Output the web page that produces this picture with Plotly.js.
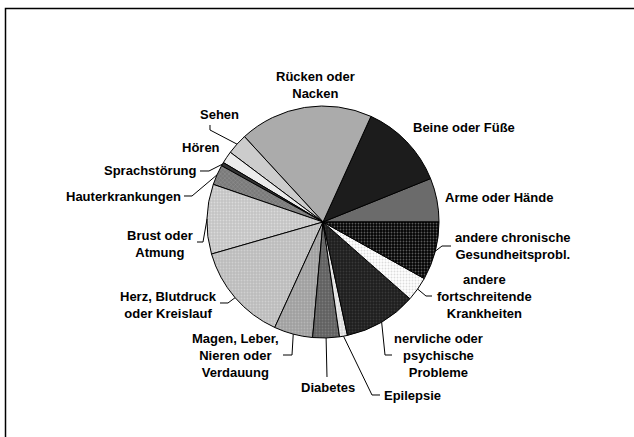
<!DOCTYPE html>
<html><head><meta charset="utf-8">
<script src="https://cdn.plot.ly/plotly-3.0.1.min.js"></script>
<style>html,body{margin:0;padding:0;background:#fff}#chart{width:634px;height:437px}</style>
</head><body><div id="chart"></div>
<script>
// ---- data ----
const categories = ["Arme oder Hände", "Beine oder Füße", "Rücken oder Nacken", "Sehen", "Hören",
  "Sprachstörung", "Hauterkrankungen", "Brust oder Atmung", "Herz, Blutdruck oder Kreislauf",
  "Magen, Leber, Nieren oder Verdauung", "Diabetes", "Epilepsie", "nervliche oder psychische Probleme",
  "andere fortschreitende Krankheiten", "andere chronische Gesundheitsprobl."];
const shares = [6.1, 12.1, 18.6, 2.9, 1.7, 0.5, 2.8, 9.7, 13.7, 5.4, 3.7, 1.1, 10.1, 3.4, 8.1];
const labelTexts = ["Arme oder Hände", "Beine oder Füße", "Rücken oder<br>Nacken", "Sehen", "Hören",
  "Sprachstörung", "Hauterkrankungen", "Brust oder<br>Atmung", "Herz, Blutdruck<br>oder Kreislauf",
  "Magen, Leber,<br>Nieren oder<br>Verdauung", "Diabetes", "Epilepsie", "nervliche oder<br>psychische<br>Probleme",
  "andere<br>fortschreitende<br>Krankheiten", "andere chronische<br>Gesundheitsprobl."];

// ---- styles ----
const W = 634, H = 437;
const CX = 323, CY = 222, R = 116;
const bgColors = ["#6b6b6b", "#1c1c1c", "#ababab", "#cccccc", "#ececec", "#333333", "#7a7a7a",
  "#c4c4c4", "#bcbcbc", "#a0a0a0", "#606060", "#dcdcdc", "#1e1e1e", "#ffffff", "#030303"];
const fgColors = ["#6b6b6b", "#1c1c1c", "#ababab", "#cccccc", "#ececec", "#333333", "#959595",
  "#dadada", "#d0d0d0", "#b6b6b6", "#7a7a7a", "#f4f4f4", "#383838", "#dcdcdc", "#5a5a5a"];
const patShapes = ["", "", "", "", "", "", "x", ".", ".", ".", ".", ".", ".", ".", "."];

// label placement (pixels): x, y, xanchor, leader points (from text toward slice)
const labelPos = [
  {x: 443, y: 197, xa: "left", lead: null},
  {x: 411, y: 127, xa: "left", lead: null},
  {x: 315, y: 84.5, xa: "center", lead: null},
  {x: 219, y: 114, xa: "center", lead: [[210,125],[210,130]]},
  {x: 201, y: 147, xa: "center", lead: null},
  {x: 199, y: 171, xa: "right", lead: [[200,171],[209,171]]},
  {x: 183, y: 196, xa: "right", lead: [[184,196],[192,196]]},
  {x: 160, y: 243.5, xa: "center", lead: [[197,242],[203,242]]},
  {x: 168, y: 304.5, xa: "center", lead: [[220,303],[228,303]]},
  {x: 235, y: 355, xa: "center", lead: [[283,355],[292,355]]},
  {x: 328, y: 387, xa: "center", lead: [[327,377]]},
  {x: 382, y: 395, xa: "left", lead: [[380,395],[372,395]]},
  {x: 438, y: 355, xa: "center", lead: [[392,355],[385,355]]},
  {x: 484, y: 296, xa: "center", lead: [[432,296],[426,296]]},
  {x: 453, y: 245.5, xa: "left", lead: [[451,246],[442,246]]}
];

const px = x => x / W, py = y => 1 - y / H;

const total = shares.reduce((a, b) => a + b, 0);
let cum = 0;
const shapes = [{
  type: "rect", xref: "paper", yref: "paper",
  x0: px(5.5), x1: 1.05, y0: -0.05, y1: py(8.5),
  line: {color: "#000", width: 1.5}, fillcolor: "rgba(0,0,0,0)"
}];
const annotations = [];
shares.forEach((v, i) => {
  const a0 = cum / total * 360; cum += v;
  const a1 = cum / total * 360;
  const mid = (a0 + a1) / 2 * Math.PI / 180;
  const ex = CX + R * Math.cos(mid), ey = CY - R * Math.sin(mid);
  const lp = labelPos[i];
  if (lp.lead) {
    const pts = lp.lead.concat([[ex, ey]]);
    const d = pts.map((p, k) => (k ? "L" : "M") + px(p[0]).toFixed(5) + "," + py(p[1]).toFixed(5)).join(" ");
    shapes.push({type: "path", xref: "paper", yref: "paper", path: d, line: {color: "#000", width: 1}});
  }
  annotations.push({
    text: labelTexts[i], xref: "paper", yref: "paper",
    x: px(lp.x), y: py(lp.y), xanchor: lp.xa, yanchor: "middle",
    showarrow: false, align: "center",
    font: {family: "Liberation Sans, Arial, sans-serif", size: 13, color: "#000", weight: "bold"}
  });
});

// first slice begins at 3 o'clock, running counter-clockwise
const rotation = 90 - shares[0] / total * 360;

const trace = {
  type: "pie", labels: categories, values: shares, sort: false,
  direction: "counterclockwise", rotation: rotation, textinfo: "none", hoverinfo: "skip",
  domain: {x: [px(CX - R), px(CX + R)], y: [py(CY + R), py(CY - R)]},
  marker: {
    colors: bgColors, line: {color: "#000", width: 1},
    pattern: {shape: patShapes, fgcolor: fgColors, bgcolor: bgColors, size: 3, solidity: 0.3, fillmode: "replace"}
  },
  showlegend: false
};

Plotly.newPlot("chart", [trace], {
  width: W, height: H, margin: {l: 0, r: 0, t: 0, b: 0},
  paper_bgcolor: "#fff", showlegend: false, shapes, annotations
}, {staticPlot: true, displayModeBar: false});
</script></body></html>
